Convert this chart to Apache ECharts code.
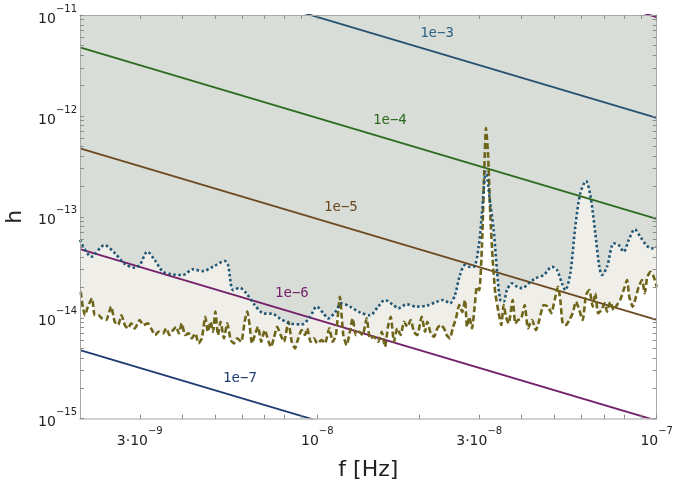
<!DOCTYPE html>
<html><head><meta charset="utf-8">
<script src="https://cdn.jsdelivr.net/npm/echarts@6/dist/echarts.min.js"></script>
<style>html,body{margin:0;padding:0;background:#fff}#c{width:674px;height:490px}</style>
</head><body><div id="c"></div>
<script>
// ---- data (f in Hz, h dimensionless) ----
const dottedF = [2.0e-9,2.16e-9,2.36e-9,2.53e-9,2.71e-9,2.90e-9,3.00e-9,3.16e-9,3.32e-9,3.51e-9,
3.76e-9,4.02e-9,4.30e-9,4.61e-9,4.93e-9,5.34e-9,5.46e-9,5.65e-9,5.91e-9,6.18e-9,
6.54e-9,6.92e-9,7.40e-9,7.76e-9,8.31e-9,9.00e-9,9.52e-9,9.96e-9,1.042e-8,1.077e-8,
1.128e-8,1.180e-8,1.248e-8,1.336e-8,1.430e-8,1.512e-8,1.583e-8,1.675e-8,1.733e-8,1.834e-8,
1.963e-8,2.101e-8,2.248e-8,2.351e-8,2.460e-8,2.545e-8,2.633e-8,2.724e-8,2.793e-8,2.889e-8,
2.989e-8,3.056e-8,3.140e-8,3.233e-8,3.309e-8,3.384e-8,3.460e-8,3.541e-8,3.621e-8,3.747e-8,
3.876e-8,4.010e-8,4.197e-8,4.389e-8,4.647e-8,4.916e-8,5.086e-8,5.260e-8,5.379e-8,5.565e-8,
5.757e-8,5.955e-8,6.190e-8,6.374e-8,6.594e-8,6.775e-8,6.901e-8,7.139e-8,7.470e-8,7.729e-8,
7.995e-8,8.271e-8,8.615e-8,8.948e-8,9.363e-8,9.687e-8,1.0e-7];
const dottedH = [5.89e-14,4.02e-14,5.25e-14,4.38e-14,3.41e-14,3.13e-14,3.33e-14,4.51e-14,3.73e-14,2.86e-14,
2.69e-14,2.65e-14,3.02e-14,2.90e-14,3.20e-14,3.65e-14,3.33e-14,1.88e-14,1.98e-14,1.75e-14,
1.34e-14,1.11e-14,1.09e-14,9.86e-15,8.80e-15,8.60e-15,1.02e-14,1.29e-14,1.11e-14,9.86e-15,
1.13e-14,1.39e-14,1.29e-14,1.13e-14,1.06e-14,1.29e-14,1.50e-14,1.34e-14,1.24e-14,1.36e-14,
1.29e-14,1.32e-14,1.44e-14,1.50e-14,1.39e-14,1.68e-14,2.65e-14,3.33e-14,3.20e-14,3.20e-14,
5.05e-14,1.08e-13,2.80e-13,1.36e-13,7.40e-14,2.97e-14,1.50e-14,1.44e-14,1.88e-14,2.19e-14,
2.03e-14,1.96e-14,2.19e-14,2.46e-14,2.65e-14,3.20e-14,2.97e-14,2.19e-14,1.88e-14,2.75e-14,
7.98e-14,1.71e-13,2.26e-13,1.64e-13,6.86e-14,3.20e-14,2.65e-14,3.20e-14,5.46e-14,5.25e-14,
4.51e-14,5.89e-14,7.52e-14,6.35e-14,5.14e-14,4.87e-14,5.05e-14];
const dashedF = [2.01e-9,2.04e-9,2.07e-9,2.11e-9,2.17e-9,2.21e-9,2.27e-9,2.32e-9,2.39e-9,2.47e-9,
2.53e-9,2.59e-9,2.65e-9,2.71e-9,2.77e-9,2.83e-9,2.90e-9,3.00e-9,3.07e-9,3.17e-9,
3.24e-9,3.33e-9,3.41e-9,3.51e-9,3.59e-9,3.67e-9,3.76e-9,3.84e-9,3.91e-9,3.99e-9,
4.08e-9,4.18e-9,4.27e-9,4.37e-9,4.47e-9,4.57e-9,4.68e-9,4.76e-9,4.85e-9,4.93e-9,
5.01e-9,5.10e-9,5.19e-9,5.31e-9,5.43e-9,5.56e-9,5.68e-9,5.81e-9,5.97e-9,6.11e-9,
6.22e-9,6.32e-9,6.42e-9,6.57e-9,6.69e-9,6.84e-9,7.00e-9,7.19e-9,7.30e-9,7.45e-9,
7.62e-9,7.80e-9,7.98e-9,8.22e-9,8.41e-9,8.60e-9,8.79e-9,9.00e-9,9.20e-9,9.34e-9,
9.56e-9,9.78e-9,1.000e-8,1.030e-8,1.054e-8,1.085e-8,1.110e-8,1.135e-8,1.166e-8,1.193e-8,
1.221e-8,1.248e-8,1.271e-8,1.300e-8,1.329e-8,1.361e-8,1.398e-8,1.430e-8,1.469e-8,1.512e-8,
1.548e-8,1.583e-8,1.619e-8,1.646e-8,1.683e-8,1.721e-8,1.761e-8,1.801e-8,1.842e-8,1.885e-8,
1.927e-8,1.971e-8,2.031e-8,2.077e-8,2.110e-8,2.159e-8,2.208e-8,2.258e-8,2.310e-8,2.362e-8,
2.406e-8,2.460e-8,2.506e-8,2.563e-8,2.621e-8,2.675e-8,2.724e-8,2.761e-8,2.804e-8,2.856e-8,
2.909e-8,2.954e-8,3.001e-8,3.056e-8,3.105e-8,3.140e-8,3.184e-8,3.233e-8,3.287e-8,3.346e-8,
3.424e-8,3.485e-8,3.541e-8,3.597e-8,3.664e-8,3.765e-8,3.832e-8,3.903e-8,3.991e-8,4.084e-8,
4.176e-8,4.291e-8,4.409e-8,4.509e-8,4.647e-8,4.783e-8,4.892e-8,5.006e-8,5.119e-8,5.200e-8,
5.284e-8,5.404e-8,5.526e-8,5.655e-8,5.783e-8,5.916e-8,6.053e-8,6.190e-8,6.331e-8,6.479e-8,
6.594e-8,6.717e-8,6.868e-8,7.029e-8,7.139e-8,7.300e-8,7.470e-8,7.638e-8,7.810e-8,8.049e-8,
8.176e-8,8.305e-8,8.498e-8,8.690e-8,8.851e-8,9.052e-8,9.220e-8,9.383e-8,9.601e-8,9.799e-8,
1.000e-7];
const dashedH = [1.81e-14,1.25e-14,1.06e-14,1.29e-14,1.56e-14,1.06e-14,1.06e-14,9.86e-15,9.49e-15,1.29e-14,
9.13e-15,8.47e-15,1.06e-14,8.47e-15,7.85e-15,8.80e-15,7.85e-15,9.49e-15,8.47e-15,8.80e-15,
7.85e-15,6.74e-15,7.26e-15,7.00e-15,7.85e-15,6.74e-15,7.55e-15,8.14e-15,7.00e-15,8.80e-15,
6.74e-15,7.00e-15,6.25e-15,7.00e-15,5.58e-15,6.25e-15,1.02e-14,7.26e-15,9.13e-15,7.26e-15,
1.15e-14,6.74e-15,9.13e-15,6.25e-15,8.80e-15,6.01e-15,5.58e-15,6.25e-15,5.78e-15,9.13e-15,
1.15e-14,8.47e-15,5.58e-15,7.00e-15,8.14e-15,5.78e-15,7.55e-15,5.78e-15,5.13e-15,6.25e-15,
8.14e-15,6.74e-15,5.78e-15,9.13e-15,5.78e-15,4.97e-15,6.25e-15,7.55e-15,6.74e-15,7.85e-15,
5.78e-15,6.25e-15,5.58e-15,6.01e-15,5.58e-15,7.85e-15,5.78e-15,6.74e-15,1.61e-14,6.74e-15,
5.36e-15,7.26e-15,9.86e-15,6.74e-15,7.26e-15,6.74e-15,9.86e-15,6.25e-15,6.48e-15,5.78e-15,
7.26e-15,5.16e-15,8.47e-15,1.02e-14,5.78e-15,7.85e-15,6.74e-15,9.13e-15,8.14e-15,9.49e-15,
7.26e-15,6.74e-15,1.02e-14,7.26e-15,9.13e-15,7.00e-15,6.48e-15,7.85e-15,8.47e-15,7.85e-15,
6.74e-15,6.25e-15,7.85e-15,9.86e-15,1.34e-14,1.14e-14,1.50e-14,8.14e-15,1.02e-14,7.85e-15,
1.29e-14,2.03e-14,1.88e-14,5.05e-14,2.91e-13,7.59e-13,4.26e-13,1.08e-13,3.73e-14,1.75e-14,
1.11e-14,8.47e-15,1.34e-14,1.02e-14,8.80e-15,1.50e-14,8.80e-15,9.49e-15,9.86e-15,1.34e-14,
7.85e-15,9.49e-15,7.55e-15,9.49e-15,1.34e-14,1.29e-14,1.11e-14,1.50e-14,2.03e-14,1.50e-14,
8.80e-15,8.47e-15,9.49e-15,1.11e-14,1.44e-14,1.19e-14,9.49e-15,1.68e-14,1.88e-14,1.29e-14,
1.75e-14,1.11e-14,1.19e-14,1.39e-14,1.15e-14,1.44e-14,1.19e-14,1.34e-14,1.50e-14,2.03e-14,
2.36e-14,1.61e-14,1.29e-14,1.61e-14,2.03e-14,2.36e-14,1.75e-14,2.55e-14,2.86e-14,2.55e-14,
2.03e-14];
// reference lines: end points at f = 2e-9 and f = 1e-7
const lineF = [2e-9, 1e-7];
const line1e2 = [4.78e-10, 9.55e-12];
const line1e3 = [4.78e-11, 9.55e-13];
const line1e4 = [4.78e-12, 9.55e-14];
const line1e5 = [4.78e-13, 9.55e-15];
const line1e6 = [4.78e-14, 9.55e-16];
const line1e7 = [4.78e-15, 9.55e-17];
// axis ticks
const xTickValues = [3e-9,4e-9,5e-9,6e-9,7e-9,8e-9,9e-9,1e-8,2e-8,3e-8,4e-8,5e-8,6e-8,7e-8,8e-8,9e-8,1e-7];
const xLabelValues = [3e-9,1e-8,3e-8,1e-7];
const yTickValues = [1e-15,2e-15,3e-15,4e-15,5e-15,6e-15,7e-15,8e-15,9e-15,
  1e-14,2e-14,3e-14,4e-14,5e-14,6e-14,7e-14,8e-14,9e-14,
  1e-13,2e-13,3e-13,4e-13,5e-13,6e-13,7e-13,8e-13,9e-13,
  1e-12,2e-12,3e-12,4e-12,5e-12,6e-12,7e-12,8e-12,9e-12,1e-11];
const yLabelValues = [1e-15,1e-14,1e-13,1e-12,1e-11];
const xRange = [2e-9, 1e-7];
const yRange = [1e-15, 1e-11];

// ---- rendering ----
const F = 'DejaVu Sans';
const GRID = {left: 80, top: 15, width: 576.7, height: 403.7, outerBoundsMode: 'none', containLabel: false};
const pairs = (fs, hs) => fs.map((f, i) => [f, hs[i]]);
const L = v => Math.log10(v);
function sci(lv) {
  const e = Math.floor(lv + 1e-6);
  const m = Math.round(Math.pow(10, lv - e));
  return '{b|' + (m === 1 ? '' : m + '·') + '10}{s|−' + (-e) + '}';
}
const rich = {
  b: {fontFamily: F, fontSize: 14, color: '#222', lineHeight: 22, verticalAlign: 'bottom'},
  s: {fontFamily: F, fontSize: 10, color: '#222', lineHeight: 14, verticalAlign: 'top'}
};
function onLine(hs, f) {
  const t = (L(f) - L(lineF[0])) / (L(lineF[1]) - L(lineF[0]));
  return Math.pow(10, L(hs[0]) + t * (L(hs[1]) - L(hs[0])));
}
const refLines = [
  {name: '1e−2', h: line1e2, color: '#74206a', label: null},
  {name: '1e−3', h: line1e3, color: '#26506f', labelColor: '#2f6385', label: 2.253e-8},
  {name: '1e−4', h: line1e4, color: '#2c6b1f', labelColor: '#2c6b1f', label: 1.637e-8},
  {name: '1e−5', h: line1e5, color: '#6b4a22', labelColor: '#6b4a22', label: 1.174e-8},
  {name: '1e−6', h: line1e6, color: '#74206a', labelColor: '#74206a', label: 8.42e-9},
  {name: '1e−7', h: line1e7, color: '#1e3b70', labelColor: '#1e3b70', label: 5.92e-9}
];

const series = [
  {type: 'line', name: 'band', xAxisIndex: 0, yAxisIndex: 0, data: pairs(dashedF, dashedH),
   symbol: 'none', smooth: 0.2, silent: true, z: 1,
   lineStyle: {width: 0, opacity: 0}, areaStyle: {color: '#efeee8', opacity: 1, origin: yRange[1]}},
  {type: 'line', name: 'excluded', xAxisIndex: 0, yAxisIndex: 0, data: pairs(dottedF, dottedH),
   symbol: 'none', smooth: 0.3, silent: true, z: 2,
   lineStyle: {width: 0, opacity: 0}, areaStyle: {color: '#d9ddd8', opacity: 1, origin: yRange[1]}}
];
refLines.forEach(r => {
  const s = {type: 'line', name: r.name, xAxisIndex: 0, yAxisIndex: 0, data: pairs(lineF, r.h),
    symbol: 'none', silent: true, z: 3, clip: true, lineStyle: {color: r.color, width: 1.8}};
  if (r.label) {
    s.markPoint = {symbol: 'circle', symbolSize: 1, silent: true, itemStyle: {color: 'rgba(0,0,0,0)'},
      label: {show: true, position: 'inside', offset: [0, -19], formatter: r.name,
        fontFamily: 'DejaVu Sans Mono', fontSize: 14, color: r.labelColor},
      data: [{coord: [r.label, onLine(r.h, r.label)]}]};
  }
  series.push(s);
});
series.push(
  {type: 'line', name: 'dashed', xAxisIndex: 0, yAxisIndex: 0, data: pairs(dashedF, dashedH),
   symbol: 'none', smooth: 0.2, silent: true, z: 4,
   lineStyle: {color: '#6f651a', width: 2.6, type: [6, 3]}},
  {type: 'line', name: 'dotted', xAxisIndex: 0, yAxisIndex: 0, data: pairs(dottedF, dottedH),
   symbol: 'none', smooth: 0.3, silent: true, z: 5,
   lineStyle: {color: '#1f5676', width: 2.6, type: [2.5, 2.5]}}
);

function decoX(pos, labels) {
  return {gridIndex: 1, type: 'value', position: pos, min: L(xRange[0]), max: L(xRange[1]), z: 10,
    axisLine: {show: true, lineStyle: {color: pos === 'bottom' ? '#c4c4c4' : '#a8a8a8', width: pos === 'bottom' ? 1.6 : 1}},
    splitLine: {show: false},
    axisTick: {show: true, inside: true, length: 4, customValues: xTickValues.map(L), lineStyle: {color: '#8c8c8c'}},
    axisLabel: labels ? {show: true, customValues: xLabelValues.map(L), formatter: sci, rich: rich, margin: 8} : {show: false},
    name: labels ? 'f [Hz]' : '', nameLocation: 'middle', nameGap: 41,
    nameTextStyle: {fontFamily: F, fontSize: 22, color: '#222'}};
}
function decoY(pos, labels) {
  return {gridIndex: 1, type: 'value', position: pos, min: L(yRange[0]), max: L(yRange[1]), z: 10,
    axisLine: {show: true, lineStyle: {color: '#a8a8a8', width: 1}}, splitLine: {show: false},
    axisTick: {show: true, inside: true, length: 4, customValues: yTickValues.map(L), lineStyle: {color: '#8c8c8c'}},
    axisLabel: labels ? {show: true, customValues: yLabelValues.map(L), formatter: sci, rich: rich, margin: 3} : {show: false},
    name: labels ? 'h' : '', nameLocation: 'middle', nameGap: 54, nameRotate: 90,
    nameTextStyle: {fontFamily: F, fontSize: 22, color: '#222'}};
}

const chart = echarts.init(document.getElementById('c'), null, {renderer: 'canvas'});
chart.setOption({
  animation: false,
  backgroundColor: '#ffffff',
  grid: [Object.assign({}, GRID), Object.assign({}, GRID)],
  xAxis: [
    {gridIndex: 0, type: 'log', logBase: 10, min: xRange[0], max: xRange[1], show: false},
    decoX('bottom', true),
    decoX('top', false)
  ],
  yAxis: [
    {gridIndex: 0, type: 'log', logBase: 10, min: yRange[0], max: yRange[1], show: false},
    decoY('left', true),
    decoY('right', false)
  ],
  series: series
});
</script>
</body></html>
